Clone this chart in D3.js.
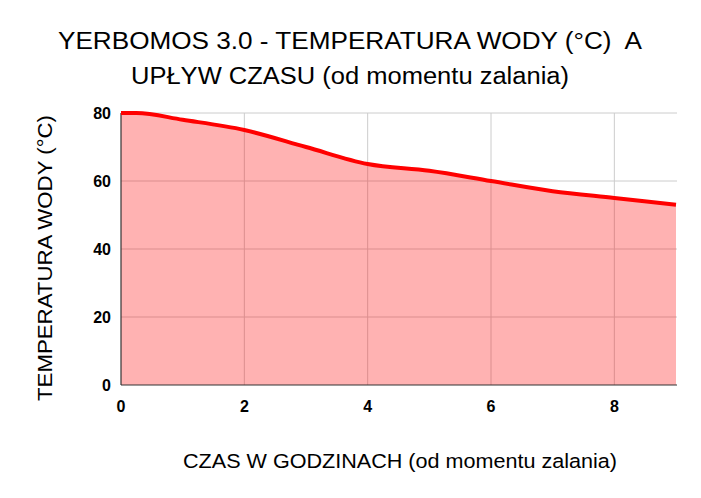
<!DOCTYPE html>
<html><head><meta charset="utf-8">
<script src="https://cdn.jsdelivr.net/npm/d3@7"></script>
<style>body{margin:0;background:#fff} text{white-space:pre}</style>
</head><body>
<svg id="c" width="701" height="498"></svg>
<script>
const hours = [0, 0.25, 1, 2, 3, 4, 5, 6, 7, 8, 9];
const temps = [80, 80, 78, 75, 70, 65, 63, 60, 57, 55, 53];
const xTicks = [0, 2, 4, 6, 8];
const yTicks = [0, 20, 40, 60, 80];
const titleLines = ["YERBOMOS 3.0 - TEMPERATURA WODY (°C)  A", "UPŁYW CZASU (od momentu zalania)"];
const xTitle = "CZAS W GODZINACH (od momentu zalania)";
const yTitle = "TEMPERATURA WODY (°C)";

const data = hours.map((h, i) => ({h, t: temps[i]}));
const svg = d3.select("#c");
const L = 121, R = 676, T = 113, B = 385;
const x = d3.scaleLinear().domain([0, 9]).range([L, R]);
const y = d3.scaleLinear().domain([0, 80]).range([B, T]);
const font = "Arial, 'Liberation Sans', sans-serif";

// grid
svg.append("g").selectAll("line").data(yTicks.filter(d => d > 0)).join("line")
  .attr("x1", L).attr("x2", R + 1).attr("y1", d => y(d)).attr("y2", d => y(d))
  .attr("stroke", "#cccccc").attr("stroke-width", 1);
svg.append("g").selectAll("line").data(xTicks.filter(d => d > 0)).join("line")
  .attr("y1", T).attr("y2", B).attr("x1", d => x(d)).attr("x2", d => x(d))
  .attr("stroke", "#cccccc").attr("stroke-width", 1);

const curve = d3.curveMonotoneX;
svg.append("path").datum(data)
  .attr("d", d3.area().x(d => x(d.h)).y0(B).y1(d => y(d.t)).curve(curve))
  .attr("fill", "#ff0000").attr("fill-opacity", 0.3);

// axes lines
svg.append("line").attr("x1", L).attr("x2", R + 1).attr("y1", B).attr("y2", B)
  .attr("stroke", "#333").attr("stroke-width", 1.2);
svg.append("line").attr("x1", L).attr("x2", L).attr("y1", T).attr("y2", B)
  .attr("stroke", "#333").attr("stroke-width", 1.2);

svg.append("path").datum(data)
  .attr("d", d3.line().x(d => x(d.h)).y(d => y(d.t)).curve(curve))
  .attr("fill", "none").attr("stroke", "#ff0000").attr("stroke-width", 4)
  .attr("stroke-linejoin", "round");

// tick labels
svg.append("g").selectAll("text").data(yTicks).join("text")
  .attr("x", 111).attr("y", d => y(d) + 6).attr("text-anchor", "end")
  .attr("font-family", font).attr("font-weight", "bold").attr("font-size", "16px")
  .style("font-size", "16px")
  .attr("fill", "#000").text(d => d);
svg.append("g").selectAll("text").data(xTicks).join("text")
  .attr("x", d => x(d)).attr("y", 412).attr("text-anchor", "middle")
  .attr("font-family", font).attr("font-weight", "bold").attr("font-size", "16px")
  .style("font-size", "16px")
  .attr("fill", "#000").text(d => d);

// titles
const tLens = [584, 438];
svg.append("g").selectAll("text").data(titleLines).join("text")
  .attr("x", 350).attr("y", (d, i) => 48.5 + i * 35).attr("text-anchor", "middle")
  .attr("font-family", font).attr("font-size", 23.3).attr("fill", "#000")
  .attr("textLength", (d, i) => tLens[i]).attr("lengthAdjust", "spacingAndGlyphs")
  .text(d => d);
svg.append("text").attr("x", 400).attr("y", 467.5).attr("text-anchor", "middle")
  .attr("font-family", font).attr("font-size", 20.5).attr("fill", "#000")
  .attr("textLength", 434).attr("lengthAdjust", "spacingAndGlyphs").text(xTitle);
svg.append("text").attr("transform", "translate(52,258) rotate(-90)").attr("text-anchor", "middle")
  .attr("font-family", font).attr("font-size", 21).attr("fill", "#000")
  .attr("textLength", 286).attr("lengthAdjust", "spacingAndGlyphs").text(yTitle);
</script>
</body></html>
